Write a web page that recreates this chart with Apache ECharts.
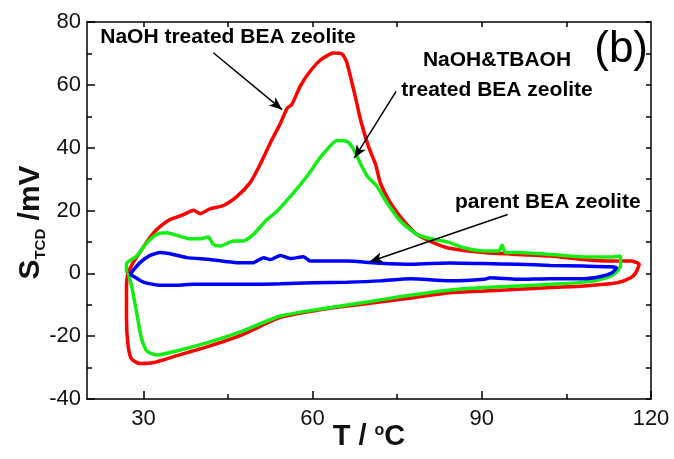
<!DOCTYPE html>
<html>
<head>
<meta charset="utf-8">
<script src="https://cdn.jsdelivr.net/npm/echarts@6/dist/echarts.min.js"></script>
<style>html,body{margin:0;padding:0;background:#fff}#c{width:674px;height:459px}</style>
</head>
<body>
<div id="c"></div>
<script>
// ---- data (T in °C, S_TCD in mV) ----
const naohLoop = [[27.2,0.0],[28.2,3.5],[29.4,6.7],[30.6,10.0],[31.8,12.9],[33.2,15.3],[34.7,17.1],[37.1,18.7],[38.9,20.1],[40.1,19.0],[41.8,20.5],[44.2,21.6],[46.6,24.5],[48.9,28.8],[50.4,33.6],[52.5,41.5],[54.3,47.8],[55.5,52.6],[56.3,53.7],[57.8,59.5],[59.3,63.7],[61.4,67.9],[63.7,70.1],[65.2,69.8],[66.0,67.5],[66.8,62.0],[67.6,56.0],[68.5,48.9],[69.9,40.4],[71.2,34.5],[72.0,28.8],[73.8,22.4],[76.2,16.6],[78.5,12.4],[81.5,9.7],[84.2,8.0],[90.4,6.6],[96.3,6.0],[102.2,5.5],[108.1,4.4],[112.8,3.9],[116.4,3.9],[117.9,2.9],[117.3,0.2],[116.4,-1.4],[114.0,-3.0],[108.1,-4.0],[102.2,-4.5],[96.3,-5.1],[90.4,-5.6],[84.2,-6.2],[76.0,-8.2],[69.1,-9.8],[63.8,-10.9],[54.3,-14.0],[47.7,-19.4],[41.8,-23.1],[35.9,-26.2],[31.8,-28.4],[29.4,-28.7],[27.9,-27.3],[27.3,-23.1],[27.0,-14.6],[27.0,-4.0],[27.2,0.0]];
const naohTbaohLoop = [[27.0,0.2],[27.0,3.0],[28.8,5.5],[30.6,9.7],[32.4,12.4],[34.1,12.9],[35.9,12.1],[38.3,11.0],[40.1,11.0],[41.5,11.6],[42.4,9.2],[43.6,8.7],[46.0,10.3],[47.7,10.3],[49.5,12.4],[51.9,17.1],[53.7,19.8],[56.6,25.6],[59.0,30.9],[60.8,35.5],[62.0,38.3],[64.3,42.3],[66.1,42.0],[67.3,39.4],[68.6,34.5],[69.7,30.9],[71.4,27.7],[73.2,22.4],[75.6,16.6],[78.5,12.4],[80.9,11.0],[83.9,10.0],[86.5,8.3],[90.4,7.1],[93.0,7.1],[93.6,8.9],[94.2,6.6],[96.3,6.6],[102.2,6.0],[108.1,5.2],[112.8,5.2],[114.6,5.5],[114.6,2.3],[113.4,-0.3],[111.1,-1.9],[108.1,-2.8],[102.2,-3.5],[96.3,-4.0],[90.4,-4.5],[84.4,-5.3],[76.0,-7.3],[69.1,-9.3],[62.0,-11.2],[54.3,-13.6],[47.7,-18.3],[41.8,-21.8],[35.9,-24.7],[32.4,-26.0],[30.6,-24.7],[29.7,-21.0],[28.8,-12.5],[27.9,-4.0],[27.3,0.2]];
const parentLoop = [[27.6,-0.3],[29.4,3.4],[31.2,5.7],[33.0,6.6],[35.3,6.0],[37.7,5.0],[41.8,4.4],[46.6,3.4],[49.5,3.4],[51.3,5.0],[52.5,4.4],[54.3,5.7],[56.0,4.7],[58.4,5.3],[59.6,3.9],[66.1,3.9],[72.0,3.2],[77.9,2.9],[84.2,3.3],[90.4,3.1],[96.3,2.9],[102.2,2.5],[108.1,2.3],[112.8,2.1],[113.9,1.8],[113.1,0.2],[111.1,-1.0],[108.1,-1.7],[102.2,-1.7],[96.3,-1.9],[91.5,-1.4],[90.4,-1.9],[84.2,-2.4],[77.4,-1.7],[72.0,-2.4],[66.1,-2.8],[60.2,-3.0],[54.3,-3.3],[47.7,-3.5],[41.8,-3.5],[38.9,-3.5],[35.9,-3.8],[33.0,-3.8],[30.0,-2.8],[28.2,-0.9],[27.6,-0.3]];

const xLabelValues = [30, 60, 90, 120];
const xMinorValues = [45, 75, 105];
const xTopTickValues = [30, 45, 60, 75, 90, 105];

// annotations: [text, anchor(T, S)] and arrows [from, to]
const annotationTexts = [
  ['NaOH treated BEA zeolite', [45.0, 75.2]],
  ['NaOH&TBAOH\ntreated BEA zeolite', [92.7, 63.2]],
  ['parent BEA zeolite', [101.7, 22.6]]
];
const annotationArrows = [
  [[42.4, 70.2], [54.6, 52.1]],
  [[74.8, 57.9], [67.4, 36.7]],
  [[94.6, 18.7], [70.1, 3.7]]
];

const FONT = "'Liberation Sans',Arial,sans-serif";
const axisLineStyle = {color: '#000', width: 1.5};

const chart = echarts.init(document.getElementById('c'), null, {renderer: 'canvas'});
const mkX = (pos, tickVals, len, showLine, labelVals, extra) => Object.assign({
  type: 'value', min: 20, max: 120, position: pos,
  axisLine: {show: showLine, onZero: false, lineStyle: axisLineStyle},
  axisTick: {show: true, inside: true, length: len, customValues: tickVals, lineStyle: {color: '#000', width: 1.5}},
  axisLabel: labelVals ? {show: true, customValues: labelVals, color: '#111', fontSize: 22, fontFamily: FONT, margin: 9} : {show: false},
  splitLine: {show: false}
}, extra || {});

const option = {
  animation: false,
  backgroundColor: '#fff',
  title: {text: '(b)', right: 21, top: 23, textStyle: {fontSize: 44, fontWeight: 'normal', fontFamily: FONT, color: '#000'}},
  grid: {left: 87, right: 23, top: 22, bottom: 60, show: false, outerBoundsMode: 'none', containLabel: false},
  xAxis: [
    mkX('bottom', xLabelValues, 8, true, xLabelValues, {
      name: 'T / {sup|o}C', nameLocation: 'middle', nameGap: 38, nameMoveOverlap: false,
      nameTextStyle: {fontSize: 29, fontWeight: 'bold', fontFamily: FONT, color: '#111', verticalAlign: 'middle',
        rich: {sup: {fontSize: 16, fontWeight: 'bold', fontFamily: FONT, verticalAlign: 'top', color: '#111'}}}
    }),
    mkX('bottom', xMinorValues, 5, false, null),
    mkX('top', xTopTickValues, 5, true, null)
  ],
  yAxis: [
    {
      type: 'value', min: -40, max: 80, interval: 20, position: 'left',
      axisLine: {show: true, onZero: false, lineStyle: axisLineStyle},
      axisTick: {show: true, inside: true, length: 8, lineStyle: {color: '#000', width: 1.5}},
      minorTick: {show: true, splitNumber: 2, length: 5, lineStyle: {color: '#000', width: 1.5}},
      axisLabel: {color: '#111', fontSize: 22, fontFamily: FONT, margin: 6},
      splitLine: {show: false},
      name: '{s|S}{sub|TCD}{s| /mV}', nameLocation: 'middle', nameGap: 56, nameRotate: 90, nameMoveOverlap: false,
      nameTextStyle: {fontFamily: FONT, color: '#111', verticalAlign: 'middle', padding: [0, 24, 0, 0], rich: {
        s: {fontSize: 30, fontWeight: 'bold', fontFamily: FONT, color: '#111', lineHeight: 34},
        sub: {fontSize: 15, fontWeight: 'bold', fontFamily: FONT, color: '#111', verticalAlign: 'bottom', lineHeight: 16}
      }}
    },
    {
      type: 'value', min: -40, max: 80, interval: 10, position: 'right',
      axisLine: {show: true, onZero: false, lineStyle: axisLineStyle},
      axisTick: {show: true, inside: true, length: 5, lineStyle: {color: '#000', width: 1.5}},
      axisLabel: {show: false}, splitLine: {show: false}
    }
  ],
  series: [
    {name: 'NaOH treated BEA zeolite', type: 'line', data: naohLoop, showSymbol: false, symbol: 'none',
     lineStyle: {color: '#ff0000', width: 3.5}, smooth: 0.2, z: 2},
    {name: 'NaOH&TBAOH treated BEA zeolite', type: 'line', data: naohTbaohLoop, showSymbol: false, symbol: 'none',
     lineStyle: {color: '#11ee11', width: 3.5}, smooth: 0.2, z: 3},
    {name: 'parent BEA zeolite', type: 'line', data: parentLoop, showSymbol: false, symbol: 'none',
     lineStyle: {color: '#0000ff', width: 3.5}, smooth: 0.2, z: 4},
    {name: 'annotations', type: 'line', data: [], z: 5, silent: true,
     markLine: {silent: true, symbol: ['none', 'arrow'], symbolSize: [8, 13],
       label: {show: false}, lineStyle: {color: '#000', width: 1.5, type: 'solid'},
       emphasis: {disabled: true},
       data: annotationArrows.map(a => [{coord: a[0]}, {coord: a[1]}])},
     markPoint: {silent: true, symbol: 'circle', symbolSize: 0,
       label: {show: true, position: 'inside', color: '#000', fontSize: 21, fontWeight: 'bold', fontFamily: FONT, lineHeight: 30},
       data: annotationTexts.map(t => ({coord: t[1], value: t[0], label: {formatter: t[0]}}))}
    }
  ]
};
chart.setOption(option);
</script>
</body>
</html>
